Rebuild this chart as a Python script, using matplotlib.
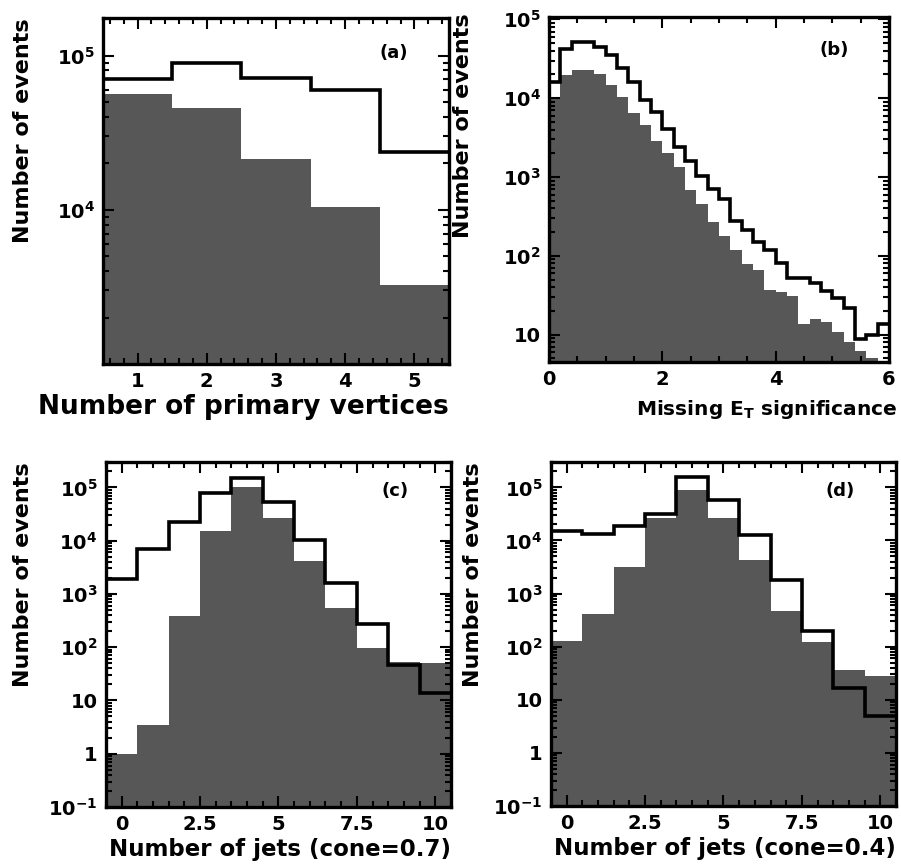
import numpy as np
import matplotlib
matplotlib.use('Agg')
import matplotlib.pyplot as plt
from matplotlib.ticker import (LogLocator, MultipleLocator, FuncFormatter,
                               NullFormatter)

plt.rcParams['font.family'] = 'DejaVu Sans'
plt.rcParams['font.weight'] = 'bold'
plt.rcParams['axes.labelweight'] = 'bold'
plt.rcParams['mathtext.default'] = 'bf'

# (a) number of primary vertices
vtx_bins = [1, 2, 3, 4, 5]
vtx_all  = [7.0e4, 9.0e4, 7.2e4, 6.0e4, 2.37e4]
vtx_sel  = [5.6e4, 4.55e4, 2.13e4, 1.05e4, 3.24e3]

# (b) missing ET significance, 30 bins of 0.2 from 0 to 6
met_range = (0.0, 6.0)
met_all = [1.6e4, 4.2e4, 5.2e4, 5.2e4, 4.5e4, 3.5e4, 2.4e4, 1.6e4, 9.4e3,
           6.7e3, 4.1e3, 2.4e3, 1.6e3, 1.04e3, 715, 520, 280, 210, 150, 120,
           81, 53, 53, 45, 36, 29, 22, 8.9, 10, 13.5]
met_sel = [1.0e4, 1.96e4, 2.3e4, 2.3e4, 2.05e4, 1.46e4, 1.04e4, 6.4e3, 4.6e3,
           2.9e3, 2.0e3, 1.35e3, 680, 450, 270, 180, 118, 78, 66, 37, 35, 31,
           13.8, 16, 14.5, 10.8, 8.1, 6.3, 5.0, 4.5]

# (c), (d) jet multiplicity
njet_bins = [0, 1, 2, 3, 4, 5, 6, 7, 8, 9, 10]
jet07_all = [1.9e3, 7e3, 2.2e4, 8e4, 1.5e5, 5.2e4, 1.05e4, 1.6e3, 270, 46, 13.5]
jet07_sel = [1.0, 3.4, 380, 1.5e4, 1e5, 2.7e4, 4.2e3, 550, 96, 52, 50]
jet04_all = [1.5e4, 1.35e4, 1.9e4, 3.2e4, 1.6e5, 5.9e4, 1.25e4, 1.8e3, 200, 17, 5]
jet04_sel = [130, 420, 3.1e3, 2.6e4, 8.8e4, 2.7e4, 4.2e3, 480, 120, 37, 28]

SHADE = '#575757'


def int_edges(centres):
    c = np.asarray(centres, dtype=float)
    return np.append(c - 0.5, c[-1] + 0.5)


def pow_label(v, pos):
    n = int(round(np.log10(v)))
    if n == 0:
        return '1'
    if n == 1:
        return '10'
    return r'$10^{%d}$' % n


def draw(ax, edges, sel, tot):
    ax.stairs(sel, edges, fill=True, color=SHADE, baseline=1e-3,
              linewidth=0, zorder=1)
    ax.stairs(tot, edges, color='black', linewidth=2.6, baseline=None,
              zorder=3)


def style(ax, yticks):
    ax.set_yscale('log')
    ax.set_yticks(yticks)
    ax.yaxis.set_major_formatter(FuncFormatter(pow_label))
    ax.yaxis.set_minor_locator(LogLocator(base=10, subs=np.arange(2, 10),
                                          numticks=30))
    ax.yaxis.set_minor_formatter(NullFormatter())
    ax.tick_params(which='both', direction='in', top=True, right=True,
                   width=1.5, labelsize=14)
    ax.tick_params(which='major', length=8, pad=6)
    ax.tick_params(which='minor', length=4)
    for s in ax.spines.values():
        s.set_linewidth(2.4)


fig = plt.figure(figsize=(9.01, 8.68), dpi=100)
fig.patch.set_facecolor('white')

ax_a = fig.add_axes([0.1143, 0.5806, 0.3840, 0.3986])
ax_b = fig.add_axes([0.6093, 0.5829, 0.3774, 0.3975])
ax_c = fig.add_axes([0.1176, 0.0703, 0.3829, 0.3975])
ax_d = fig.add_axes([0.6115, 0.0714, 0.3829, 0.3963])

# (a)
draw(ax_a, int_edges(vtx_bins), vtx_sel, vtx_all)
style(ax_a, [1e4, 1e5])
ax_a.set_xlim(0.5, 5.5)
ax_a.set_ylim(1e3, 1.75e5)
ax_a.xaxis.set_major_locator(MultipleLocator(1))
ax_a.xaxis.set_minor_locator(MultipleLocator(0.2))
ax_a.set_xlabel('Number of primary vertices', fontsize=19, loc='right')
ax_a.xaxis.set_label_coords(1.0, -0.088)
ax_a.set_ylabel('Number of events', fontsize=16, loc='top')
ax_a.yaxis.set_label_coords(-0.202, 1.0)
ax_a.text(0.84, 0.90, '(a)', transform=ax_a.transAxes, ha='center',
          va='center', fontsize=13)

# (b)
met_edges = np.linspace(met_range[0], met_range[1], len(met_all) + 1)
draw(ax_b, met_edges, met_sel, met_all)
style(ax_b, [1e1, 1e2, 1e3, 1e4, 1e5])
ax_b.set_xlim(*met_range)
ax_b.set_ylim(4.5, 1.07e5)
ax_b.xaxis.set_major_locator(MultipleLocator(2))
ax_b.xaxis.set_minor_locator(MultipleLocator(0.5))
ax_b.set_xlabel(r'Missing E$_T$ significance', fontsize=14.5, loc='right')
ax_b.xaxis.set_label_coords(1.025, -0.105)
ax_b.set_ylabel('Number of events', fontsize=16, loc='top')
ax_b.yaxis.set_label_coords(-0.224, 1.01)
ax_b.text(0.84, 0.904, '(b)', transform=ax_b.transAxes, ha='center',
          va='center', fontsize=13)

# (c) and (d)
jet_fmt = FuncFormatter(lambda v, pos: '%g' % v)
for ax, tot, sel, cone, tag, lx in [
        (ax_c, jet07_all, jet07_sel, '0.7', '(c)', -0.212),
        (ax_d, jet04_all, jet04_sel, '0.4', '(d)', -0.197)]:
    draw(ax, int_edges(njet_bins), sel, tot)
    style(ax, [1e-1, 1, 1e1, 1e2, 1e3, 1e4, 1e5])
    ax.set_xlim(-0.5, 10.5)
    ax.set_ylim(0.1, 3e5)
    ax.xaxis.set_major_locator(MultipleLocator(2.5))
    ax.xaxis.set_minor_locator(MultipleLocator(0.5))
    ax.xaxis.set_major_formatter(jet_fmt)
    ax.set_xlabel('Number of jets (cone=%s)' % cone, fontsize=16.5,
                  loc='right')
    ax.xaxis.set_label_coords(1.0, -0.09)
    ax.set_ylabel('Number of events', fontsize=16, loc='top')
    ax.yaxis.set_label_coords(lx, 1.0)
    ax.text(0.838, 0.915, tag, transform=ax.transAxes, ha='center',
            va='center', fontsize=13)

fig.savefig('out.png', dpi=100)
